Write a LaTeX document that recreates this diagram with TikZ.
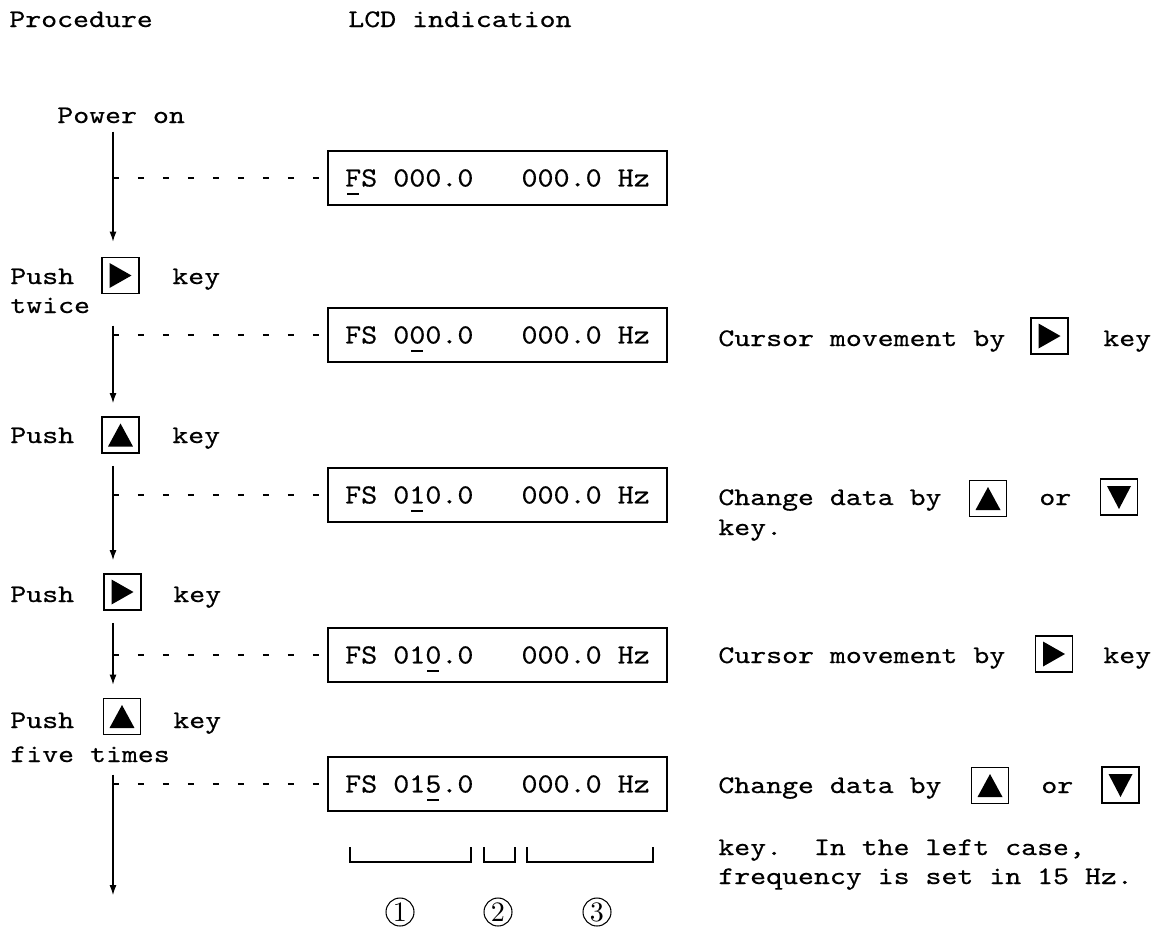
\documentclass[tikz,border=0pt]{standalone}
\usepackage{fontspec}
\usepackage{tikz}
\usetikzlibrary{arrows.meta, positioning, calc}
\newfontfamily\typefont{lmmono10-regular.otf}[FakeStretch=1.2, FakeBold=0.5]
\newfontfamily\lcdfont{lmmono10-regular.otf}[FakeStretch=1.1, FakeBold=0.5]
\newfontfamily\numfont{lmroman10-regular.otf}
\newcommand{\curs}[1]{\setbox0\hbox{#1}\rlap{\smash{\kern0.12\wd0\rule[-0.17cm]{0.76\wd0}{1.2pt}}}#1}
\tikzset{
    txt/.style={inner sep=0pt, anchor=base west, font=\fontsize{14.4}{17}\typefont},
    lcd/.style={rectangle, draw, line width=1.1pt, minimum width=6.78cm, minimum height=1.08cm, inner sep=0pt, font=\fontsize{15.8}{18}\lcdfont},
    keybox/.style={rectangle, draw, line width=1.1pt, minimum width=0.74cm, minimum height=0.72cm, inner sep=0pt},
    keyright/.style={keybox, path picture={\fill ([shift={(-0.22cm,0.25cm)}]path picture bounding box.center) -- ++(0.44cm,-0.25cm) -- ++(-0.44cm,-0.25cm) -- cycle;}},
    keyup/.style={keybox, path picture={\fill ([shift={(-0.25cm,-0.23cm)}]path picture bounding box.center) -- ++(0.5cm,0cm) -- ++(-0.25cm,0.46cm) -- cycle;}},
    keydown/.style={keybox, path picture={\fill ([shift={(-0.24cm,0.22cm)}]path picture bounding box.center) -- ++(0.48cm,0cm) -- ++(-0.24cm,-0.46cm) -- cycle;}},
    flow/.style={-{Latex[length=0.2cm, width=0.14cm]}, line width=0.6pt, shorten <=0.24cm, shorten >=0.26cm},
    leader/.style={line width=0.6pt, dash pattern=on 0.12cm off 0.38cm},
    bracketline/.style={line width=0.6pt},
    circnum/.style={circle, draw, line width=0.6pt, minimum size=0.56cm, inner sep=0pt, font=\fontsize{16}{18}\numfont}
}

\begin{document}
\begin{tikzpicture}[x=0.02cm, y=-0.02cm]
    \useasboundingbox (0,0) rectangle (1156,931);
    \coordinate (sp) at (113,0);
    \coordinate (fin) at (113,895);

    \node [txt] (proc) at (9,27) {Procedure};
    \node [txt] (head) at (348,27) {LCD indication};

    \node [txt] (pwr) at (57,123) {Power on};
    \node [lcd] (d1) at (497.5,178) {\curs{F}S~000.0~~~000.0~Hz};

    \node [txt] (push1) at (10,284) {Push};
    \node [keyright] (k1) at (120.5,275.5) {};
    \node [txt] (key1) at (172,284) {key};
    \node [txt] (twc) at (10,313) {twice};
    \node [lcd] (d2) at (497.5,335) {FS~0\curs{0}0.0~~~000.0~Hz};
    \node [txt] (cur1) at (718,346) {Cursor movement by};
    \node [keyright] (r1) at (1049.5,336) {};
    \node [txt] (cur1k) at (1103,346) {key};

    \node [txt] (push2) at (10,443) {Push};
    \node [keyup] (k2) at (120.5,435) {};
    \node [txt] (key2) at (172,443) {key};
    \node [lcd] (d3) at (497.5,495) {FS~0\curs{1}0.0~~~000.0~Hz};
    \node [txt] (chg1) at (718,505) {Change data by};
    \node [keyup] (r2) at (988,498.5) {};
    \node [txt] (or1) at (1039,505) {or};
    \node [keydown] (r3) at (1119,497) {};
    \node [txt] (chg1b) at (718,535) {key.};

    \node [txt] (push3) at (10,602) {Push};
    \node [keyright] (k3) at (122.5,592) {};
    \node [txt] (key3) at (173,602) {key};
    \node [lcd] (d4) at (497.5,655) {FS~01\curs{0}.0~~~000.0~Hz};
    \node [txt] (cur2) at (718,663) {Cursor movement by};
    \node [keyright] (r4) at (1054,654) {};
    \node [txt] (cur2k) at (1103,663) {key};

    \node [txt] (push4) at (10,728) {Push};
    \node [keyup] (k4) at (122,716.5) {};
    \node [txt] (key4) at (173,728) {key};
    \node [txt] (fiv) at (10,762) {five times};
    \node [lcd] (d5) at (497.5,784) {FS~01\curs{5}.0~~~000.0~Hz};
    \node [txt] (chg2) at (718,793) {Change data by};
    \node [keyup] (r5) at (990,785.5) {};
    \node [txt] (or2) at (1041,793) {or};
    \node [keydown] (r6) at (1120.5,785) {};
    \node [txt] (chg2b) at (718,855) {key.~~In the left case,};
    \node [txt] (chg2c) at (718,884) {frequency is set in 15 Hz.};

    \draw [bracketline] (350,847) |- (471,862) -- (471,847);
    \draw [bracketline] (484,847) |- (515,862) -- (515,847);
    \draw [bracketline] (527,847) |- (653,862) -- (653,847);
    \node [circnum] (n1) at (400,912) {1};
    \node [circnum] (n2) at (498,912) {2};
    \node [circnum] (n3) at (597,912) {3};

    \draw [flow, shorten <=0.16cm, shorten >=0.3cm] (pwr.south -| sp) -- (k1.north -| sp);
    \draw [flow] (twc.south -| sp) -- (k2.north -| sp);
    \draw [flow] (k2.south -| sp) -- (k3.north -| sp);
    \draw [flow] (k3.south -| sp) -- (k4.north -| sp);
    \draw [flow, shorten >=0pt] (fiv.south -| sp) -- (fin);

    \draw [leader] (d1.west -| sp) -- (d1.west);
    \draw [leader] (d2.west -| sp) -- (d2.west);
    \draw [leader] (d3.west -| sp) -- (d3.west);
    \draw [leader] (d4.west -| sp) -- (d4.west);
    \draw [leader] (d5.west -| sp) -- (d5.west);
\end{tikzpicture}
\end{document}
